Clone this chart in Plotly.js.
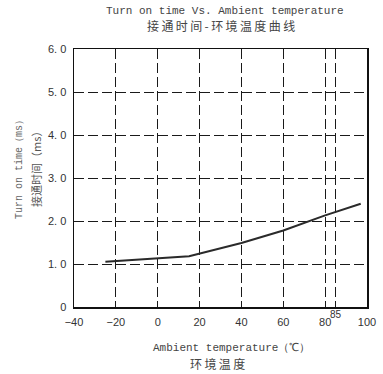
<!DOCTYPE html>
<html>
<head>
<meta charset="utf-8">
<script src="https://cdn.plot.ly/plotly-3.0.1.min.js"></script>
<style>html,body{margin:0;padding:0;background:#fff;}#chart{width:383px;height:374px;}</style>
</head>
<body>
<div id="chart"></div>
<script>
const temperature = [-25, 15, 40, 60, 80, 97];
const turnOnTime = [1.05, 1.18, 1.49, 1.78, 2.13, 2.40];
const xTickVals = [-40, -20, 0, 20, 40, 60, 80, 85, 100];
const xTickText = ['−40', '−20', '0', '20', '40', '60', '80', '', '100'];
const yTickVals = [0, 1, 2, 3, 4, 5, 6];
const yTickText = ['0', '1. 0', '2. 0', '3. 0', '4. 0', '5. 0', '6. 0'];

const mono = 'Liberation Mono, DejaVu Sans Mono, monospace';
const cjk = 'Noto Sans CJK SC, sans-serif';

const trace = {
  x: temperature, y: turnOnTime, type: 'scatter', mode: 'lines',
  line: {color: '#2a2a2a', width: 2}, hoverinfo: 'skip'
};

function ann(text, x, y, xshift, yshift, font, extra) {
  return Object.assign({text: text, xref: 'paper', yref: 'paper', x: x, y: y, xshift: xshift, yshift: yshift,
    xanchor: 'center', yanchor: 'middle', showarrow: false, font: font}, extra || {});
}

const layout = {
  width: 383, height: 374,
  margin: {l: 74, r: 16, t: 49, b: 67},
  paper_bgcolor: '#fff', plot_bgcolor: '#fff',
  showlegend: false,
  xaxis: {
    range: [-40, 100], tickvals: xTickVals, ticktext: xTickText,
    showgrid: true, gridcolor: '#1a1a1a', gridwidth: 1, griddash: '10px,4px',
    showline: true, linecolor: '#111', linewidth: 1.5, mirror: true,
    zeroline: false, ticks: '',
    tickfont: {family: 'Liberation Sans, Arial, sans-serif', size: 11, color: '#333'},
    ticklabelstandoff: 4
  },
  yaxis: {
    range: [0, 6], tickvals: yTickVals, ticktext: yTickText,
    showgrid: true, gridcolor: '#1a1a1a', gridwidth: 1, griddash: '10px,4px',
    showline: true, linecolor: '#111', linewidth: 1.5, mirror: true,
    zeroline: false, ticks: '',
    tickfont: {family: 'Liberation Sans, Arial, sans-serif', size: 11, color: '#333'},
    ticklabelstandoff: 4
  },
  annotations: [
    ann('Turn on time Vs. Ambient temperature', 0.515, 1, 0, 38, {family: mono, size: 11, color: '#444'}),
    ann('接\u2009通\u2009时\u2009间\u2009-\u2009环\u2009境\u2009温\u2009度\u2009曲\u2009线', 0.502, 1, 0, 24, {family: cjk, size: 12, color: '#444'}),
    ann('Turn on time（ms）', 0, 0.543, -54, 0, {family: mono, size: 10, color: '#666'}, {textangle: -90}),
    ann('接通时间（ms）', 0, 0.543, -38, 0, {family: cjk, size: 11, color: '#555'}, {textangle: -90}),
    ann('Ambient temperature（℃）', 0.538, 0, 0, -41, {family: mono, size: 11, color: '#444'}),
    ann('环\u2009境\u2009温\u2009度', 0.49, 0, 0, -56, {family: cjk, size: 12, color: '#444'}),
    {text: '85', xref: 'x', yref: 'paper', x: 85, y: 0, yshift: -7, xanchor: 'center', yanchor: 'middle',
     showarrow: false, font: {family: 'Liberation Sans, Arial, sans-serif', size: 10, color: '#333'}}
  ]
};

Plotly.newPlot('chart', [trace], layout, {displayModeBar: false, staticPlot: true});
</script>
</body>
</html>
